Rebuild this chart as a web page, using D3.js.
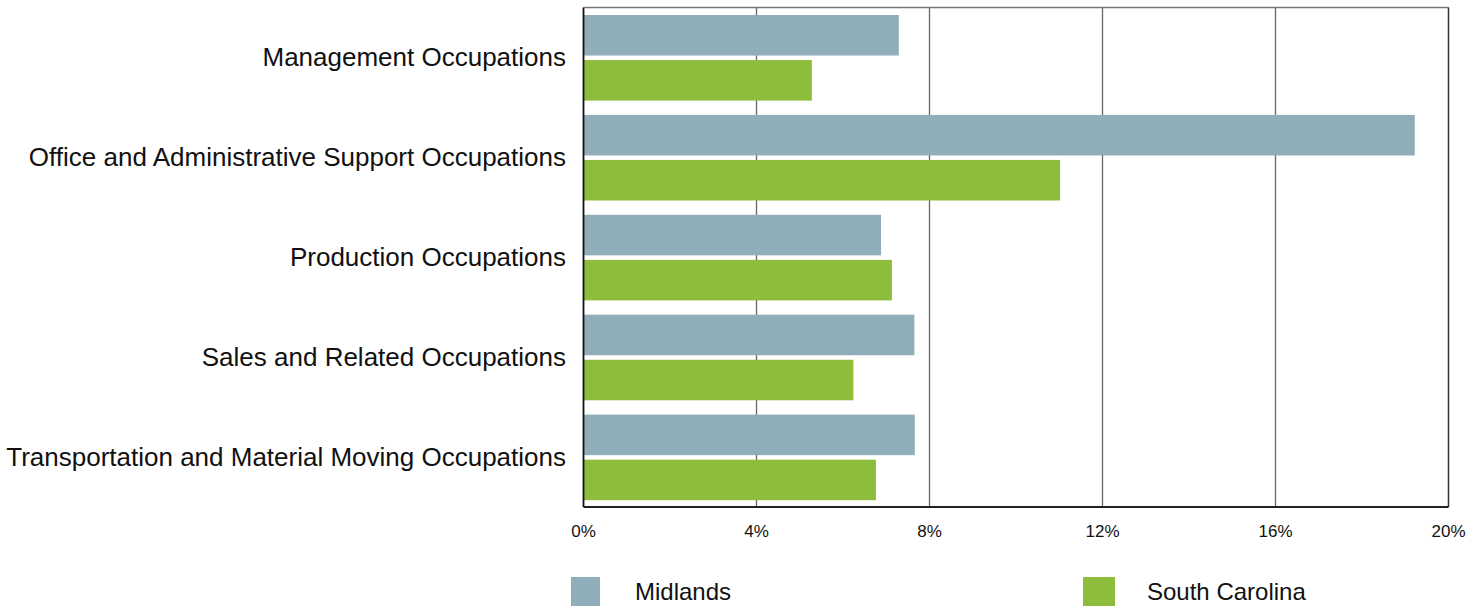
<!DOCTYPE html>
<html><head><meta charset="utf-8">
<script src="https://cdn.jsdelivr.net/npm/d3@7"></script>
<style>body{margin:0;background:#fff;} svg text{font-family:"Liberation Sans",Arial,sans-serif;}</style>
</head><body><svg id="c" width="1483" height="606"></svg>
<script>
const categories = ["Management Occupations","Office and Administrative Support Occupations","Production Occupations","Sales and Related Occupations","Transportation and Material Moving Occupations"];
const seriesNames = ["Midlands","South Carolina"];
const midlands = [7.29, 19.22, 6.88, 7.65, 7.66];
const southCarolina = [5.28, 11.02, 7.13, 6.24, 6.76];
const tickValues = [0,4,8,12,16,20];
const colors = ["#8FAEB9","#8DBD3B"];

const svg = d3.select("#c");
const m = {l:583.5, r:1448.5, t:7.5, b:507};
const x = d3.scaleLinear().domain([0,20]).range([m.l, m.r]);
const y = d3.scaleBand().domain(categories).range([m.t, m.b]).paddingInner(0).paddingOuter(0);
const yi = d3.scaleBand().domain(seriesNames).range([7.5, y.bandwidth()-6.8]).paddingInner(0.1);

// grid
svg.append("g").selectAll("line").data(tickValues.slice(1,-1)).join("line")
  .attr("x1",d=>x(d)).attr("x2",d=>x(d)).attr("y1",m.t).attr("y2",m.b)
  .attr("stroke","#666").attr("stroke-width",1.3);
// top border & right border
svg.append("line").attr("x1",m.l).attr("x2",m.r).attr("y1",m.t).attr("y2",m.t).attr("stroke","#777").attr("stroke-width",1.3);
svg.append("line").attr("x1",m.r).attr("x2",m.r).attr("y1",m.t).attr("y2",m.b).attr("stroke","#333").attr("stroke-width",1.5);

const data = [midlands, southCarolina];
const g = svg.append("g");
categories.forEach((c,i)=>{
  seriesNames.forEach((s,j)=>{
    g.append("rect").attr("x",x(0)).attr("y",y(c)+yi(s))
      .attr("width",x(data[j][i])-x(0)).attr("height",yi.bandwidth())
      .attr("fill",colors[j]);
  });
});

// axes lines
svg.append("line").attr("x1",m.l).attr("x2",m.l).attr("y1",m.t).attr("y2",m.b).attr("stroke","#111").attr("stroke-width",1.8);
svg.append("line").attr("x1",m.l).attr("x2",m.r).attr("y1",m.b).attr("y2",m.b).attr("stroke","#222").attr("stroke-width",1.8);

// x tick labels
svg.append("g").selectAll("text").data(tickValues).join("text")
  .attr("x",d=>x(d)).attr("y",537).attr("text-anchor","middle")
  .attr("font-size",17).attr("fill","#111").text(d=>d+"%");

// category labels
svg.append("g").selectAll("text").data(categories).join("text")
  .attr("x",566).attr("y",d=>y(d)+y.bandwidth()/2+9).attr("text-anchor","end")
  .attr("font-size",26).attr("fill","#111").text(d=>d);

// legend
const lx = [571, 1083], tx = [635, 1147];
seriesNames.forEach((s,j)=>{
  svg.append("rect").attr("x",lx[j]).attr("y",577).attr("width",j?32:29).attr("height",29).attr("fill",colors[j]);
  svg.append("text").attr("x",tx[j]).attr("y",600).attr("font-size",24).attr("fill","#111").text(s);
});
</script></body></html>
